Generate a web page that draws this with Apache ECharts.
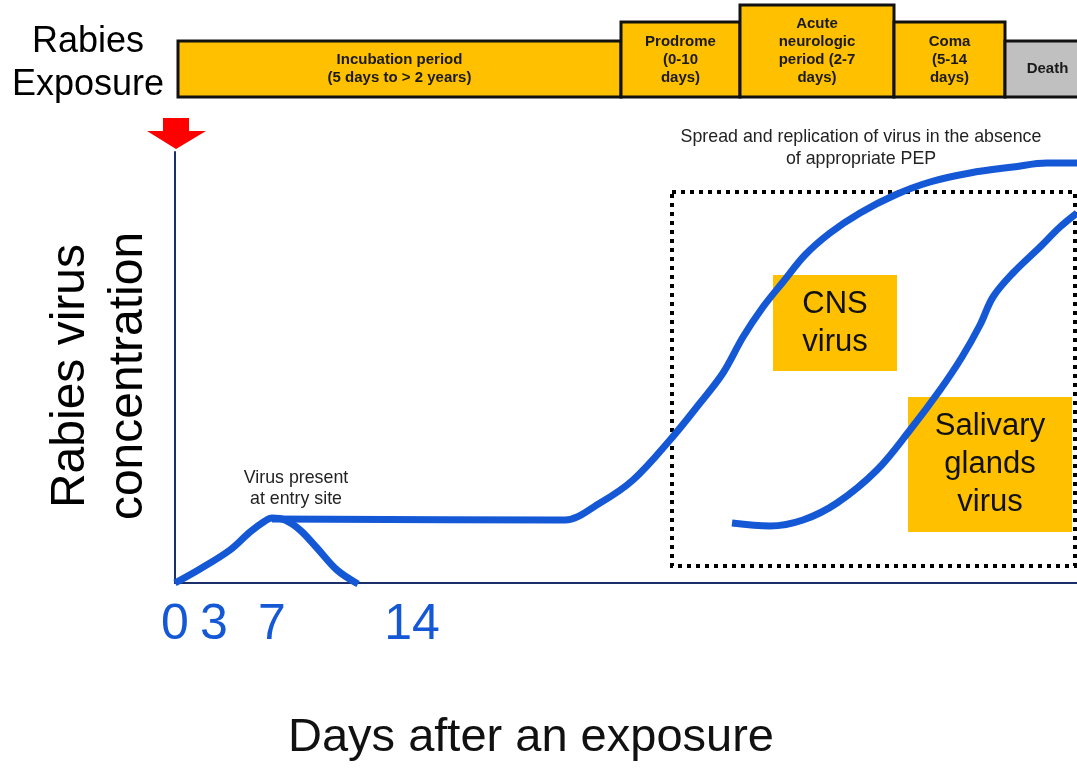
<!DOCTYPE html>
<html><head><meta charset="utf-8">
<script src="https://cdn.jsdelivr.net/npm/echarts@6/dist/echarts.min.js"></script>
<style>html,body{margin:0;padding:0;background:#fff}#c{width:1077px;height:768px}</style>
</head><body><div id="c"></div>
<script>
// ---------- data (schematic units: x = position along the timeline, y = relative virus concentration) ----------
const xTickValues = [0, 39, 97, 237];
const xTickLabels = ['0', '3', '7', '14'];

const entrySiteX = [0, 25, 55, 75, 90, 97, 110, 125, 142, 162, 183];
const entrySiteY = [0, 14, 33, 51, 62, 65, 63, 53, 35, 13, -1];

const cnsX = [97, 380, 390, 425, 458, 495, 525, 548, 568, 588, 608, 630, 655, 685, 720, 755, 795, 838, 872, 902];
const cnsY = [64, 63, 63, 80, 103, 143, 180, 210, 246, 276, 301, 328, 350, 370, 388, 401, 410, 416, 420, 420];

const salivaryX = [557, 595, 628, 662, 702, 735, 765, 787, 805, 818, 838, 865, 885, 902];
const salivaryY = [60, 57, 63, 80, 113, 153, 193, 226, 258, 286, 310, 336, 356, 370];

const phaseLabels = ['Incubation period\n(5 days to > 2 years)', 'Prodrome\n(0-10\ndays)', 'Acute\nneurologic\nperiod (2-7\ndays)', 'Coma\n(5-14\ndays)', 'Death'];
const phaseStart = [3, 446, 565, 719, 830];
const phaseEnd = [446, 565, 719, 830, 915];

const noteLabels = ['CNS\nvirus', 'Salivary\nglands\nvirus'];
const noteX0 = [598, 733];
const noteX1 = [722, 897];
const noteY0 = [212, 51];
const noteY1 = [308, 186];

const regionX = [497, 900];
const regionY = [17, 391];

// ---------- layout / style ----------
const FONT = '"Liberation Sans", Arial, Helvetica, sans-serif';
const BLUE = '#1558d6';
const ORANGE = '#FFC000';
const phaseTierTop = [41, 22, 5, 22, 41];   // band layout (px in band grid)
const phaseBottom = 97;
const phaseFill = [ORANGE, ORANGE, ORANGE, ORANGE, '#C0C0C0'];

const zip = (xs, ys) => xs.map((x, i) => [x, ys[i]]);

const chart = echarts.init(document.getElementById('c'), null, {renderer: 'canvas'});

const lineCommon = {
  type: 'line', xAxisIndex: 0, yAxisIndex: 0, z: 5, clip: false,
  smooth: 0.35, symbol: 'none',
  lineStyle: {color: BLUE, width: 7}
};

const option = {
  animation: false,
  backgroundColor: '#fff',
  grid: [
    {left: 175, right: 0, top: 152, bottom: 185},
    {left: 175, right: 0, top: 0, height: 100}
  ],
  xAxis: [
    {
      type: 'value', gridIndex: 0, min: 0, max: 902,
      axisLine: {show: true, onZero: false, lineStyle: {color: '#1b2f6b', width: 2}},
      axisTick: {show: false},
      splitLine: {show: false},
      axisLabel: {
        customValues: xTickValues,
        formatter: v => { const i = xTickValues.indexOf(v); return i >= 0 ? xTickLabels[i] : ''; },
        color: BLUE, fontSize: 50, fontFamily: FONT, lineHeight: 50, margin: 17
      }
    },
    {type: 'value', gridIndex: 1, min: 0, max: 902, show: false}
  ],
  yAxis: [
    {
      type: 'value', gridIndex: 0, min: 0, max: 431,
      axisLine: {show: true, onZero: false, lineStyle: {color: '#1b2f6b', width: 2}},
      axisTick: {show: false}, axisLabel: {show: false}, splitLine: {show: false}
    },
    {type: 'value', gridIndex: 1, min: 0, max: 100, inverse: true, show: false}
  ],
  series: [
    // phase band
    {
      type: 'custom', xAxisIndex: 1, yAxisIndex: 1, clip: false, z: 2,
      data: phaseLabels.map((l, i) => [phaseStart[i], phaseEnd[i], i]),
      renderItem: (params, api) => {
        const i = api.value(2);
        const p0 = api.coord([api.value(0), phaseTierTop[i]]);
        const p1 = api.coord([api.value(1), phaseBottom]);
        return {
          type: 'rect',
          shape: {x: p0[0], y: p0[1], width: p1[0] - p0[0], height: p1[1] - p0[1]},
          style: {fill: phaseFill[i], stroke: '#111', lineWidth: 3},
          textContent: {
            style: {text: phaseLabels[i], font: 'bold 15px ' + FONT, fill: '#1a1a1a', align: 'center', verticalAlign: 'middle', lineHeight: 18}
          },
          textConfig: {position: 'inside'}
        };
      }
    },
    // dotted region
    {
      type: 'custom', xAxisIndex: 0, yAxisIndex: 0, clip: false, z: 1,
      data: [[regionX[0], regionY[0], regionX[1], regionY[1]]],
      renderItem: (params, api) => {
        const a = api.coord([api.value(0), api.value(3)]);
        const b = api.coord([api.value(2), api.value(1)]);
        return {
          type: 'rect',
          shape: {x: a[0], y: a[1], width: b[0] - a[0], height: b[1] - a[1]},
          style: {fill: 'none', stroke: '#000', lineWidth: 4, lineDash: [4, 5], lineCap: 'butt'}
        };
      }
    },
    // note boxes
    {
      type: 'custom', xAxisIndex: 0, yAxisIndex: 0, clip: false, z: 1,
      data: noteLabels.map((l, i) => [noteX0[i], noteY0[i], noteX1[i], noteY1[i], i]),
      renderItem: (params, api) => {
        const i = api.value(4);
        const a = api.coord([api.value(0), api.value(3)]);
        const b = api.coord([api.value(2), api.value(1)]);
        return {
          type: 'rect',
          shape: {x: a[0], y: a[1], width: b[0] - a[0], height: b[1] - a[1]},
          style: {fill: ORANGE},
          textContent: {
            style: {text: noteLabels[i], font: '31px ' + FONT, fill: '#111', align: 'center', verticalAlign: 'middle', lineHeight: 38}
          },
          textConfig: {position: 'inside'}
        };
      }
    },
    Object.assign({}, lineCommon, {name: 'Entry site', data: zip(entrySiteX, entrySiteY)}),
    Object.assign({}, lineCommon, {name: 'CNS virus', data: zip(cnsX, cnsY)}),
    Object.assign({}, lineCommon, {name: 'Salivary glands virus', data: zip(salivaryX, salivaryY)})
  ],
  graphic: [
    {type: 'text', x: 88, y: 64, style: {text: 'Rabies\nExposure', font: '36px ' + FONT, fill: '#000', align: 'center', verticalAlign: 'middle', lineHeight: 43}},
    {type: 'polygon', shape: {points: [[163, 118], [189, 118], [189, 131], [206, 131], [176, 149], [147, 131], [163, 131]]}, style: {fill: '#ff0000'}},
    {type: 'text', x: 296, y: 489, style: {text: 'Virus present\nat entry site', font: '17.8px ' + FONT, fill: '#222', align: 'center', verticalAlign: 'middle', lineHeight: 21}},
    {type: 'text', x: 861, y: 148, style: {text: 'Spread and replication of virus in the absence\nof appropriate PEP', font: '17.8px ' + FONT, fill: '#222', align: 'center', verticalAlign: 'middle', lineHeight: 22}},
    {type: 'text', x: 100, y: 376, rotation: Math.PI / 2, style: {text: 'Rabies virus\nconcentration', font: '48px ' + FONT, fill: '#000', align: 'center', verticalAlign: 'middle', lineHeight: 58}},
    {type: 'text', x: 531, y: 738, style: {text: 'Days after an exposure', font: '47px ' + FONT, fill: '#111', align: 'center', verticalAlign: 'middle'}}
  ]
};
chart.setOption(option);
</script>
</body></html>
